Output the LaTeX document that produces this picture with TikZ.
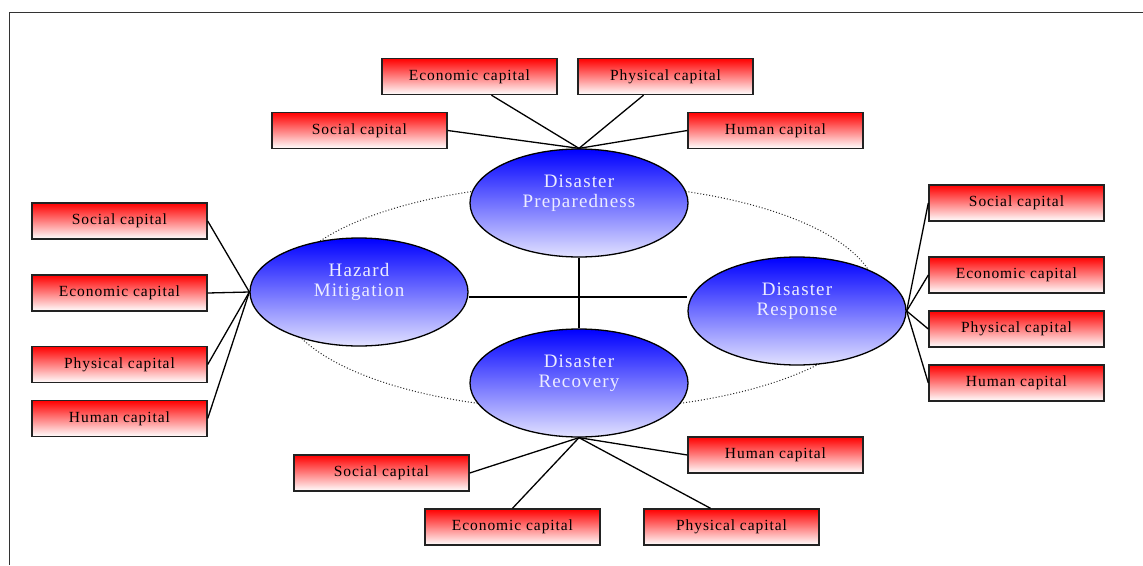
\documentclass[tikz,border=0pt]{standalone}
\usepackage{fontspec}
\setmainfont{Liberation Serif}
\newfontfamily\boxfont[LetterSpace=6]{Liberation Serif}
\usetikzlibrary{shapes.geometric,calc}
\definecolor{boxline}{HTML}{222222}
\definecolor{lav}{HTML}{E2E2FF}
\definecolor{elltext}{HTML}{ECECFF}
\tikzset{
  capbox/.style={draw=boxline, line width=1.4pt, minimum width=175pt, minimum height=36pt,
    top color=red, bottom color=white, font=\boxfont\fontsize{15.5}{17}\selectfont, inner sep=0pt},
  phase/.style={ellipse, draw=black, line width=1.3pt, minimum width=218pt, minimum height=108pt,
    top color=blue, bottom color=lav, text=elltext, align=center, inner sep=0pt,
    text height=33pt, text depth=24pt,
    font=\boxfont\fontsize{19}{20}\selectfont},
  link/.style={line width=1.3pt, black},
}
\begin{document}
\begin{tikzpicture}[x=1pt,y=-1pt]
\useasboundingbox (0,0) rectangle (1143,565);
\fill[white] (0,0) rectangle (1143,565);
% frame
\draw[line width=1.6pt, black!80] (1143,12.5) -- (9.5,12.5) -- (9.5,565);
% dotted cycle
\draw[dotted, line width=1pt, black!85] (579,297) ellipse [x radius=298, y radius=113];
% phases
\node[phase] (prep) at (579,203) {Disaster\\Preparedness};
\node[phase] (haz) at (359,292) {Hazard\\Mitigation};
\node[phase] (resp) at (797,311) {Disaster\\Response};
\node[phase] (rec) at (579,383) {Disaster\\Recovery};
\coordinate (hub) at (579,297);
\draw[link] (haz.east |- hub) -- (resp.west |- hub);
\draw[link] (prep.south) -- (rec.north);
% top boxes
\node[capbox] (pE) at (469.5,76.5) {Economic capital};
\node[capbox] (pP) at (665.5,76.5) {Physical capital};
\node[capbox] (pS) at (359.5,130.5) {Social capital};
\node[capbox] (pH) at (775.5,130.5) {Human capital};
\draw[link] (prep.north) -- (pS.east);
\draw[link] (prep.north) -- ([xshift=22pt]pE.south);
\draw[link] (prep.north) -- ([xshift=-22pt]pP.south);
\draw[link] (prep.north) -- (pH.west);
% left boxes
\node[capbox] (hS) at (119.5,221) {Social capital};
\node[capbox] (hE) at (119.5,293) {Economic capital};
\node[capbox] (hP) at (119.5,364.5) {Physical capital};
\node[capbox] (hH) at (119.5,418.5) {Human capital};
\foreach \b in {hS,hE,hP,hH} \draw[link] (haz.west) -- (\b.east);
% right boxes
\node[capbox] (rS) at (1016.5,203) {Social capital};
\node[capbox] (rE) at (1016.5,275) {Economic capital};
\node[capbox] (rP) at (1016.5,329) {Physical capital};
\node[capbox] (rH) at (1016.5,383) {Human capital};
\foreach \b in {rS,rE,rP,rH} \draw[link] (resp.east) -- (\b.west);
% bottom boxes
\node[capbox] (cH) at (775.5,455) {Human capital};
\node[capbox] (cS) at (381.5,473) {Social capital};
\node[capbox] (cE) at (512.5,527) {Economic capital};
\node[capbox] (cP) at (731.5,527) {Physical capital};
\draw[link] (rec.south) -- (cH.west);
\draw[link] (rec.south) -- (cS.east);
\draw[link] (rec.south) -- (cE.north);
\draw[link] (rec.south) -- ([xshift=-21pt]cP.north);
\end{tikzpicture}
\end{document}
